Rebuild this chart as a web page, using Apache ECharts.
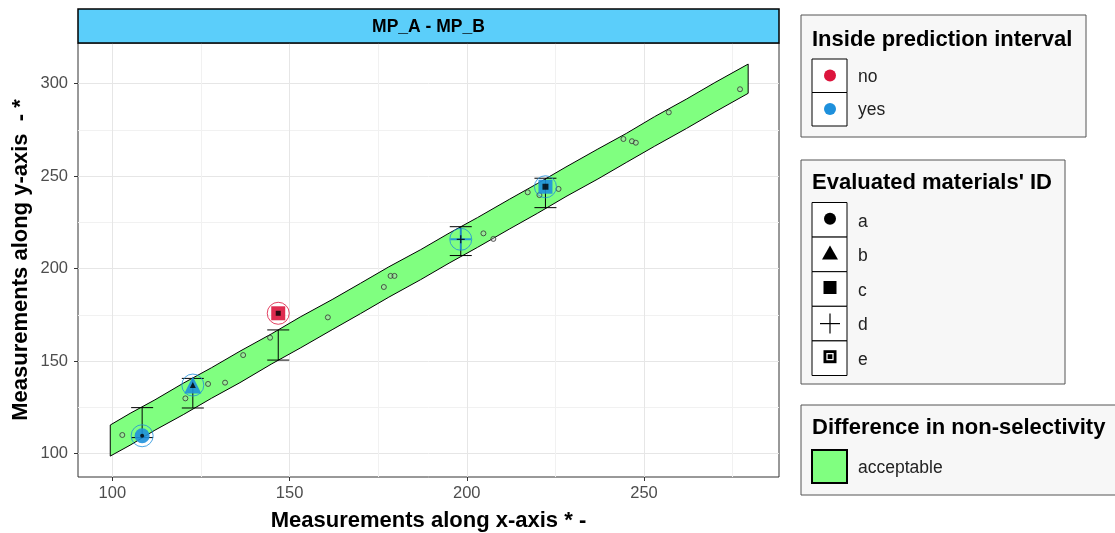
<!DOCTYPE html>
<html>
<head>
<meta charset="utf-8">
<script src="https://cdn.jsdelivr.net/npm/echarts@6/dist/echarts.min.js"></script>
<style>html,body{margin:0;padding:0;background:#fff}#c{width:1115px;height:533px}</style>
</head>
<body>
<div id="c"></div>
<script>
// ---- data ----
const xTicks = [100, 150, 200, 250];
const xMinorTicks = [125, 175, 225, 275];
const yTicks = [100, 150, 200, 250, 300];
const yMinorTicks = [125, 175, 225, 275];

// acceptance band (prediction interval) edges
const bandX     = [99.4, 105, 112, 120, 128, 136, 145, 153, 162, 170, 178, 187, 195, 203, 212, 220, 228, 237, 245, 253, 262, 270, 279.4];
const bandUpper = [115.4, 121.7, 129.0, 138.0, 146.4, 155.3, 164.8, 173.8, 183.2, 192.0, 200.9, 210.2, 219.1, 227.5, 237.4, 246.0, 254.9, 264.6, 273.0, 282.1, 291.6, 300.5, 310.5];
const bandLower = [98.6, 104.5, 112.6, 121.0, 129.9, 138.3, 148.5, 157.0, 166.9, 175.6, 184.5, 194.0, 202.9, 211.4, 221.3, 229.9, 238.9, 248.4, 257.3, 266.1, 275.7, 284.6, 294.7];

// clinical samples (small points)
const sampleX = [102.8, 120.6, 127.0, 131.8, 136.9, 144.5, 160.8, 176.6, 178.5, 179.6, 204.7, 207.5, 217.2, 220.5, 225.9, 244.2, 246.6, 247.7, 257.0, 277.1];
const sampleY = [110.0, 129.8, 137.6, 138.3, 153.2, 162.6, 173.6, 190.0, 196.0, 196.0, 219.0, 216.0, 241.2, 239.7, 243.0, 270.0, 268.8, 268.0, 284.4, 296.9];

// evaluated materials
const matID     = ['a', 'b', 'c', 'd', 'e'];
const matX      = [108.4, 122.7, 146.8, 198.3, 222.2];
const matY      = [109.6, 137.0, 175.8, 215.8, 244.2];
const matLo     = [108.6, 124.6, 150.5, 207.0, 232.9];
const matHi     = [124.8, 140.6, 166.8, 222.6, 248.8];
const matInside = ['yes', 'yes', 'no', 'yes', 'yes'];

const insideLevels = ['no', 'yes'];
const insideColors = {no: '#DC143C', yes: '#1E90DC'};
const bandLabel = 'acceptable';

// ---- styles ----
const FONT = 'Liberation Sans, Arial, sans-serif';
const GREEN = '#80FF80';
const PLUS_BIG = 'path://M-0.09,-1H0.09V1H-0.09Z M-1,-0.09H1V0.09H-1Z';
const PLUS_SMALL = 'path://M-0.16,-1H0.16V1H-0.16Z M-1,-0.16H1V0.16H-1Z';
const shapeOf = {a: 'circle', b: 'triangle', c: 'rect', d: PLUS_BIG, e: 'rect'};
const shapeSmall = {a: 'circle', b: 'triangle', c: 'rect', d: PLUS_SMALL, e: 'rect'};
const sizeBig = {a: 15, b: 17, c: 14, d: 21, e: 14};
const sizeSmall = {a: 4, b: 6, c: 5, d: 8, e: 6};

const chart = echarts.init(document.getElementById('c'), null, {renderer: 'canvas'});

const gridL = 78, gridR = 779, gridT = 43, gridB = 477;

const bandData = bandX.map((x, i) => [x, bandUpper[i], bandLower[i]]);

const option = {
  animation: false,
  backgroundColor: '#fff',
  grid: {left: gridL, right: 1115 - gridR, top: gridT, bottom: 533 - gridB, show: true,
         borderColor: '#333', borderWidth: 1, backgroundColor: 'transparent'},
  xAxis: [{
    type: 'value', min: 90.3, max: 288.1,
    axisLine: {show: false},
    axisTick: {show: true, customValues: xTicks, length: 4, lineStyle: {color: '#333'}},
    axisLabel: {customValues: xTicks, color: '#4d4d4d', fontSize: 16.5, fontFamily: FONT, margin: 8},
    splitLine: {show: true, lineStyle: {color: '#e6e6e6', width: 1}}
  }, {
    type: 'value', min: 90.3, max: 288.1, position: 'bottom',
    axisLine: {show: false},
    axisTick: {show: false, customValues: xMinorTicks},
    axisLabel: {show: false, customValues: xMinorTicks},
    splitLine: {show: true, lineStyle: {color: '#f1f1f1', width: 1}}
  }],
  yAxis: [{
    type: 'value', min: 87.3, max: 321.9,
    axisLine: {show: false},
    axisTick: {show: true, customValues: yTicks, length: 4, lineStyle: {color: '#333'}},
    axisLabel: {customValues: yTicks, color: '#4d4d4d', fontSize: 16.5, fontFamily: FONT, margin: 10},
    splitLine: {show: true, lineStyle: {color: '#e6e6e6', width: 1}}
  }, {
    type: 'value', min: 87.3, max: 321.9, position: 'left',
    axisLine: {show: false},
    axisTick: {show: false, customValues: yMinorTicks},
    axisLabel: {show: false, customValues: yMinorTicks},
    splitLine: {show: true, lineStyle: {color: '#f1f1f1', width: 1}}
  }],
  series: [
    {
      type: 'custom', name: bandLabel, z: 1, clip: true,
      data: bandData,
      renderItem: function (params, api) {
        if (params.dataIndex !== 0) return null;
        const up = bandData.map(d => api.coord([d[0], d[1]]));
        const lo = bandData.map(d => api.coord([d[0], d[2]])).reverse();
        return {type: 'polygon', shape: {points: up.concat(lo)},
                style: {fill: GREEN, stroke: '#000', lineWidth: 1}};
      }
    },
    {
      type: 'scatter', z: 3, symbol: 'circle', symbolSize: 5,
      data: sampleX.map((x, i) => [x, sampleY[i]]),
      itemStyle: {color: 'rgba(200,200,200,0.4)', borderColor: '#333', borderWidth: 1}
    },
    {
      type: 'custom', z: 4,
      data: matX.map((x, i) => [x, matLo[i], matHi[i]]),
      renderItem: function (params, api) {
        const x = api.value(0);
        const p1 = api.coord([x, api.value(1)]);
        const p2 = api.coord([x, api.value(2)]);
        const w = 11;
        const st = {stroke: '#000', lineWidth: 1};
        return {type: 'group', children: [
          {type: 'line', shape: {x1: p1[0], y1: p1[1], x2: p2[0], y2: p2[1]}, style: st},
          {type: 'line', shape: {x1: p1[0] - w, y1: p1[1], x2: p1[0] + w, y2: p1[1]}, style: st},
          {type: 'line', shape: {x1: p2[0] - w, y1: p2[1], x2: p2[0] + w, y2: p2[1]}, style: st}
        ]};
      }
    },
    {
      type: 'scatter', z: 5,
      data: matX.map((x, i) => ({
        value: [x, matY[i]], symbol: shapeOf[matID[i]], symbolSize: sizeBig[matID[i]],
        itemStyle: {color: insideColors[matInside[i]], opacity: 0.9}
      }))
    },
    {
      type: 'scatter', z: 6,
      data: matX.map((x, i) => ({
        value: [x, matY[i]], symbol: shapeSmall[matID[i]], symbolSize: sizeSmall[matID[i]],
        itemStyle: {color: '#000'}
      }))
    },
    {
      type: 'scatter', z: 7, symbol: 'circle', symbolSize: 22,
      data: matX.map((x, i) => ({
        value: [x, matY[i]],
        itemStyle: {color: 'transparent', borderColor: insideColors[matInside[i]], borderWidth: 1}
      }))
    }
  ],
  graphic: []
};

// ---- strip, axis titles, legends (layout graphics) ----
const g = [];
const TITLE_SIZE = 22, LABEL_SIZE = 17.5;
g.push({type: 'rect', shape: {x: gridL, y: 9, width: gridR - gridL, height: 34},
        style: {fill: '#5BCEFA', stroke: '#000', lineWidth: 1.5}, z: 10});
g.push({type: 'text', x: (gridL + gridR) / 2, y: 27, z: 11,
        style: {text: 'MP_A - MP_B', fontFamily: FONT, fontWeight: 'bold', fontSize: 17.5,
                fill: '#000', align: 'center', verticalAlign: 'middle'}});
g.push({type: 'text', x: (gridL + gridR) / 2, y: 521, z: 11,
        style: {text: 'Measurements along x-axis * -', fontFamily: FONT, fontWeight: 'bold', fontSize: TITLE_SIZE,
                fill: '#000', align: 'center', verticalAlign: 'middle'}});
g.push({type: 'text', x: 21, y: (gridT + gridB) / 2, rotation: Math.PI / 2, z: 11,
        style: {text: 'Measurements along y-axis  - *', fontFamily: FONT, fontWeight: 'bold', fontSize: TITLE_SIZE,
                fill: '#000', align: 'center', verticalAlign: 'middle'}});

function legendBox(x, y, w, h, title, titleY) {
  g.push({type: 'rect', shape: {x: x, y: y, width: w, height: h},
          style: {fill: '#F7F7F7', stroke: '#555', lineWidth: 1}, z: 10});
  g.push({type: 'text', x: 812, y: titleY, z: 11,
          style: {text: title, fontFamily: FONT, fontWeight: 'bold', fontSize: TITLE_SIZE, fill: '#000',
                  align: 'left', verticalAlign: 'middle'}});
}
function keyCell(y, h, label, labelY) {
  g.push({type: 'rect', shape: {x: 812, y: y, width: 35, height: h},
          style: {fill: '#fff', stroke: '#000', lineWidth: 1}, z: 11});
  g.push({type: 'text', x: 858, y: labelY, z: 11,
          style: {text: label, fontFamily: FONT, fontSize: LABEL_SIZE, fill: '#222', align: 'left', verticalAlign: 'middle'}});
}
// legend 1
legendBox(801, 15, 285, 122, 'Inside prediction interval', 40);
insideLevels.forEach((lv, i) => {
  const y = 59 + i * 33.5;
  keyCell(y, 33.5, lv, y + 18);
  g.push({type: 'circle', shape: {cx: 830, cy: y + 16.5, r: 6}, style: {fill: insideColors[lv]}, z: 12});
});
// legend 2
legendBox(801, 160, 264, 224, "Evaluated materials' ID", 183);
matID.forEach((id, i) => {
  const y = 202.5 + i * 34.6;
  const cy = y + 17.3;
  keyCell(y, 34.6, id, cy + 2);
  let els;
  if (id === 'a') els = [{type: 'circle', shape: {cx: 830, cy: cy - 1, r: 6}, style: {fill: '#000'}}];
  else if (id === 'b') els = [{type: 'polygon', shape: {points: [[830, cy - 9], [838, cy + 5], [822, cy + 5]]}, style: {fill: '#000'}}];
  else if (id === 'c') els = [{type: 'rect', shape: {x: 823.5, y: cy - 8, width: 13, height: 13}, style: {fill: '#000'}}];
  else if (id === 'd') els = [
    {type: 'line', shape: {x1: 820, y1: cy, x2: 840, y2: cy}, style: {stroke: '#000', lineWidth: 1.2}},
    {type: 'line', shape: {x1: 830, y1: cy - 10, x2: 830, y2: cy + 10}, style: {stroke: '#000', lineWidth: 1.2}}];
  else els = [
    {type: 'rect', shape: {x: 823.5, y: cy - 8, width: 13, height: 13}, style: {fill: '#000'}},
    {type: 'rect', shape: {x: 827, y: cy - 4.5, width: 6, height: 6}, style: {fill: 'none', stroke: '#fff', lineWidth: 1.3}}];
  els.forEach(e => { e.z = 12; g.push(e); });
});
// legend 3
legendBox(801, 405, 330, 90, 'Difference in non-selectivity', 428);
g.push({type: 'rect', shape: {x: 812, y: 450, width: 35, height: 33},
        style: {fill: GREEN, stroke: '#000', lineWidth: 2}, z: 11});
g.push({type: 'text', x: 858, y: 468, z: 11,
        style: {text: bandLabel, fontFamily: FONT, fontSize: LABEL_SIZE, fill: '#222', align: 'left', verticalAlign: 'middle'}});

option.graphic = g;
chart.setOption(option);
</script>
</body>
</html>
